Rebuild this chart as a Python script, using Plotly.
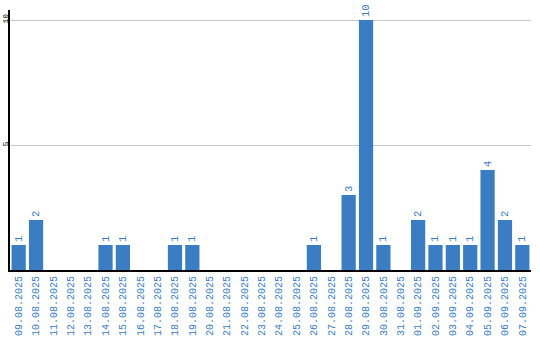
import plotly.graph_objects as go

dates = ["09.08.2025","10.08.2025","11.08.2025","12.08.2025","13.08.2025","14.08.2025",
         "15.08.2025","16.08.2025","17.08.2025","18.08.2025","19.08.2025","20.08.2025",
         "21.08.2025","22.08.2025","23.08.2025","24.08.2025","25.08.2025","26.08.2025",
         "27.08.2025","28.08.2025","29.08.2025","30.08.2025","31.08.2025","01.09.2025",
         "02.09.2025","03.09.2025","04.09.2025","05.09.2025","06.09.2025","07.09.2025"]
counts = [1,2,0,0,0,1,1,0,0,1,1,0,0,0,0,0,0,1,0,3,10,1,0,2,1,1,1,4,2,1]
ytick_vals = [5, 10]

blue = "#3b7dc2"
font_fam = "Liberation Mono, Courier New, monospace"

fig = go.Figure(go.Bar(
    x=dates, y=counts,
    marker=dict(color=blue, line=dict(width=0)),
    text=[str(v) if v else "" for v in counts],
    textposition="outside", textangle=-90,
    textfont=dict(color=blue, size=10.5, family=font_fam),
    cliponaxis=False,
))
fig.update_layout(
    width=540, height=340,
    margin=dict(l=10, r=9, t=10, b=70),
    plot_bgcolor="white", paper_bgcolor="white",
    bargap=0.18, showlegend=False,
    uniformtext=dict(minsize=10, mode="show"),
)
fig.update_xaxes(
    type="category", tickangle=-90, showgrid=False, automargin=False,
    tickfont=dict(color=blue, size=10, family=font_fam),
    showline=True, linecolor="black", linewidth=2, ticks="",
)
fig.update_yaxes(
    range=[0, 10.4], tickvals=ytick_vals, tickangle=-90, automargin=False,
    tickfont=dict(color="black", size=8, family=font_fam),
    ticklabelstandoff=-3,
    showgrid=True, gridcolor="#c8c8c8", gridwidth=1,
    showline=True, linecolor="black", linewidth=2, zeroline=False, ticks="",
)
fig.write_html("out.html")
